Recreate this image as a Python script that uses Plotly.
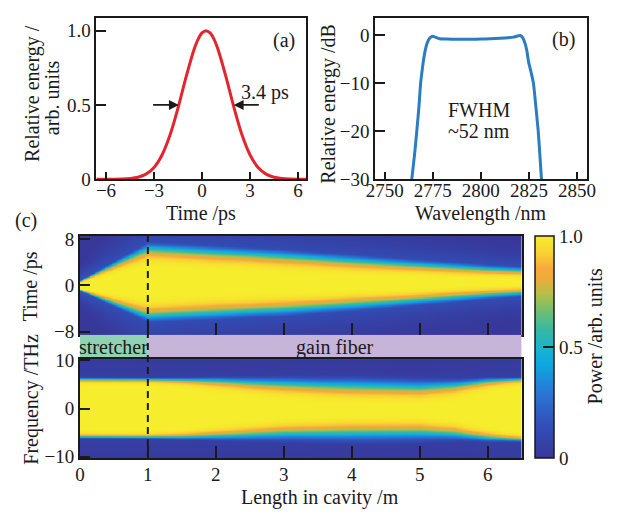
import numpy as np
import plotly.graph_objects as go

W, H = 619, 521

# ---------------- data ----------------
# (a) temporal pulse profile
time_a_ps = [-6.6, -6, -5.5, -5, -4.5, -4, -3.5, -3, -2.5, -2, -1.5, -1, -0.5, -0.25, 0, 0.25,
             0.5, 0.75, 1, 1.5, 2, 2.5, 3, 3.5, 4, 4.5, 5, 5.5, 6, 6.5]
energy_a = [0.0, 0.0001, 0.0004, 0.0013, 0.0045, 0.013, 0.034, 0.079, 0.163, 0.297, 0.48, 0.687,
            0.874, 0.942, 0.985, 1.0, 0.985, 0.942, 0.874, 0.687, 0.48, 0.297, 0.163, 0.079,
            0.034, 0.013, 0.0045, 0.0013, 0.0003, 0.0]
fwhm_left_ps, fwhm_right_ps = -1.45, 1.98
arrow_tail_left_ps, arrow_tail_right_ps = -3.15, 3.64

# (b) spectrum
wl_b_nm = [2764.1, 2765.5, 2766.7, 2767.8, 2768.7, 2769.6, 2770.4, 2771.2, 2772.0, 2773.0, 2774.0,
           2775.1, 2776.5, 2778.5, 2782, 2786, 2790, 2795, 2800, 2805, 2810, 2814, 2817, 2819,
           2820.5, 2821.8, 2823.0, 2824.0, 2824.7, 2826.0, 2827.3, 2828.6, 2829.8, 2831.5]
db_b = [-30, -25, -20, -15, -10, -7, -4.7, -3, -1.8, -0.9, -0.45, -0.27, -0.5, -0.8, -0.85, -0.9,
        -0.9, -0.9, -0.85, -0.8, -0.7, -0.6, -0.45, -0.2, -0.1, -0.6, -1.8, -3.5, -5.4, -7.6,
        -10, -15, -20, -30]

# (c) evolution along the cavity
length_m = [0, 0.5, 1.0, 1.5, 2, 2.5, 3, 3.5, 4, 4.5, 5, 5.5, 6, 6.5]
time_center_ps = [0, 0.3, 0.6, 0.6, 0.55, 0.55, 0.5, 0.5, 0.5, 0.5, 0.55, 0.6, 0.65, 0.7]
time_halfwidth_ps = [0.8, 3.4, 5.9, 5.6, 5.3, 5.0, 4.7, 4.3, 3.9, 3.5, 3.1, 2.7, 2.3, 2.0]
time_edge_order = [8, 7, 6.5, 6, 5.5, 5.5, 5, 5, 4.5, 4.5, 4.5, 4, 4, 4]
freq_center_thz = [0.15, 0.12, 0.1, 0.05, 0.05, 0.0, 0.0, -0.1, -0.15, -0.2, -0.25, -0.2, -0.15, -0.15]
freq_halfwidth_thz = [6.0, 6.0, 6.0, 5.95, 5.8, 5.55, 5.3, 5.15, 5.05, 4.95, 4.85, 5.15, 5.95, 6.3]
freq_edge_order = [20, 20, 20, 14, 9, 6.5, 5, 4.5, 4, 4, 4, 5.5, 10, 18]

segments = ["stretcher", "gain fiber"]
segment_start_m = [0, 1.0]
segment_end_m = [1.0, 6.5]
segment_colors = ["#8fd3b4", "#c7b4d9"]

colorscale = [[0.0, '#38379a'], [0.15, '#3150b8'], [0.3, '#2a78d6'], [0.42, '#0ca8e0'],
              [0.49, '#18b4d0'], [0.58, '#38b8a2'], [0.66, '#70be72'], [0.74, '#b6bf48'],
              [0.8, '#e8ad3c'], [0.85, '#f7a83a'], [0.92, '#f8d033'], [1.0, '#f6ee2c']]

# ---------------- maps ----------------
L = np.linspace(0, 6.5, 261)
t = np.linspace(-8.6, 8.6, 175)
f = np.linspace(-10.3, 10.3, 175)


def build_map(axis_vals, centers, widths, orders, ped_amp):
    c = np.interp(L, length_m, centers)[None, :]
    w = np.interp(L, length_m, widths)[None, :]
    p = np.interp(L, length_m, orders)[None, :]
    d = (axis_vals[:, None] - c) / w
    sg = np.exp(-np.log(2) * np.abs(d) ** p)
    ped = ped_amp * np.exp(-((axis_vals[:, None] - c) / (w * 1.35 + 1.0)) ** 2)
    return np.maximum(sg, ped)


z_time = build_map(t, time_center_ps, time_halfwidth_ps, time_edge_order, 0.22)
z_freq = build_map(f, freq_center_thz, freq_halfwidth_thz, freq_edge_order, 0.08)


def xd(a, b):
    return [a / W, b / W]


def yd(top, bottom):
    return [1 - bottom / H, 1 - top / H]


FONT = "Liberation Serif"
INK = "#1a1a1a"
tickfont = dict(family=FONT, size=19, color=INK)

fig = go.Figure()

fig.add_trace(go.Scatter(x=time_a_ps, y=energy_a, mode='lines', line=dict(color='#e3262d', width=3, shape='spline'),
                         xaxis='x', yaxis='y', showlegend=False, hoverinfo='skip'))
fig.add_trace(go.Scatter(x=wl_b_nm, y=db_b, mode='lines', line=dict(color='#2b7cc0', width=3, shape='spline', smoothing=0.6),
                         xaxis='x2', yaxis='y2', showlegend=False, hoverinfo='skip'))

fig.add_trace(go.Heatmap(x=L, y=t, z=z_time, colorscale=colorscale, zmin=0, zmax=1.0, zsmooth='best',
                         xaxis='x3', yaxis='y3', showscale=False, hoverinfo='skip'))
fig.add_trace(go.Heatmap(x=L, y=f, z=z_freq, colorscale=colorscale, zmin=0, zmax=1.0, zsmooth='best',
                         xaxis='x5', yaxis='y5', hoverinfo='skip',
                         colorbar=dict(x=542 / W, xanchor='left', y=1 - 467 / H, yanchor='bottom',
                                       len=(467 - 236) / H, lenmode='fraction', thickness=19,
                                       outlinecolor=INK, outlinewidth=1.5,
                                       tickvals=[0, 0.5, 1.0], ticktext=['0', '0.5', '1.0'],
                                       ticks='inside', ticklen=11, tickcolor=INK, tickwidth=1.5,
                                       tickfont=tickfont, ypad=0, xpad=0)))

# strip showing cavity sections
fig.add_trace(go.Bar(y=[0, 0], x=[e - s for s, e in zip(segment_start_m, segment_end_m)], base=segment_start_m,
                     orientation='h', width=1, marker=dict(color=segment_colors, line=dict(width=0)),
                     xaxis='x4', yaxis='y4', showlegend=False, hoverinfo='skip'))
for name, s, e in zip(segments, segment_start_m, segment_end_m):
    fig.add_annotation(text=name, x=(s + e) / 2, y=0, xref='x4', yref='y4', showarrow=False,
                       font=dict(family=FONT, size=20, color=INK), xanchor='center', yanchor='middle')

common = dict(showline=True, linecolor=INK, linewidth=1.5, mirror=True, ticks='inside',
              tickcolor=INK, tickwidth=1.5, tickfont=tickfont, showgrid=False, zeroline=False)

fig.update_layout(
    width=W, height=H, margin=dict(l=0, r=0, t=0, b=0),
    font=dict(family=FONT, color=INK),
    paper_bgcolor='white', plot_bgcolor='white', showlegend=False,
    xaxis=dict(domain=xd(90, 306), range=[-6.6, 6.5], tickvals=[-6, -3, 0, 3, 6], ticklen=7, anchor='y',
               ticklabelstandoff=-7, **common),
    yaxis=dict(domain=yd(9, 177), range=[0, 1.088], tickvals=[0, 0.5, 1.0], ticktext=['0', '0.5', '1.0'],
               ticklen=10, anchor='x', **common),
    xaxis2=dict(domain=xd(377, 595), range=[2745, 2855], tickvals=[2750, 2775, 2800, 2825, 2850], ticklen=7,
                anchor='y2', ticklabelstandoff=-7, **common),
    yaxis2=dict(domain=yd(9, 177), range=[-30, 3.6], tickvals=[0, -10, -20, -30], ticklen=10, anchor='x2', **common),
    xaxis3=dict(domain=xd(73, 528), range=[0, 6.5], tickvals=[0, 1, 2, 3, 4, 5, 6], showticklabels=False,
                ticklen=12, anchor='y3', **common),
    yaxis3=dict(domain=yd(236, 339), range=[-8.6, 8.6], tickvals=[-8, 0, 8], ticklen=10, anchor='x3', **common),
    xaxis4=dict(domain=xd(73, 528), range=[0, 6.5], visible=False, anchor='y4'),
    yaxis4=dict(domain=yd(339, 364), range=[-0.5, 0.5], visible=False, anchor='x4'),
    xaxis5=dict(domain=xd(73, 528), range=[0, 6.5], tickvals=[0, 1, 2, 3, 4, 5, 6], ticklen=12, anchor='y5',
                ticklabelstandoff=-2, **common),
    yaxis5=dict(domain=yd(364, 467), range=[-10.3, 10.3], tickvals=[-10, 0, 10], ticklen=10, anchor='x5', **common),
)

# dashed line at the end of the stretcher
fig.add_shape(type='line', xref='x3', yref='paper', x0=segment_end_m[0], x1=segment_end_m[0],
              y0=1 - 467 / H, y1=1 - 236 / H, line=dict(color=INK, width=2, dash='7px,5px'), layer='above')

# FWHM arrows
for tail, head in [(arrow_tail_left_ps, fwhm_left_ps), (arrow_tail_right_ps, fwhm_right_ps)]:
    fig.add_annotation(x=head, y=0.5, ax=tail, ay=0.5, xref='x', yref='y', axref='x', ayref='y',
                       showarrow=True, arrowhead=2, arrowsize=1.1, arrowwidth=1.8, arrowcolor=INK, text='')


def ann(text, x, y, xref='paper', yref='paper', angle=0, size=20, xanchor='center'):
    if xref == 'paper':
        x = x / W
    if yref == 'paper':
        y = 1 - y / H
    fig.add_annotation(text=text, x=x, y=y, xref=xref, yref=yref, showarrow=False, textangle=angle,
                       font=dict(family=FONT, size=size, color=INK), xanchor=xanchor, yanchor='middle')


ann('3.4 ps', 3.95, 0.585, 'x', 'y')
ann('(a)', 5.1, 0.935, 'x', 'y')
ann('(b)', 2843, -1, 'x2', 'y2')
ann('FWHM', 2799, -15.6, 'x2', 'y2')
ann('~52 nm', 2799, -20, 'x2', 'y2')
ann('(c)', 18, 220)

ann('Relative energy /', 24, 88, angle=-90)
ann('arb. units', 45, 92, angle=-90)
ann('Time /ps', 198, 213)
ann('Relative energy /dB', 329, 98, angle=-90)
ann('Wavelength /nm', 486, 213)
ann('Time /ps', 23, 288, angle=-90)
ann('Frequency /THz', 23, 406, angle=-90)
ann('Length in cavity /m', 320, 508)
ann('Power /arb. units', 604, 340, angle=-90)

fig.write_html("out.html")
